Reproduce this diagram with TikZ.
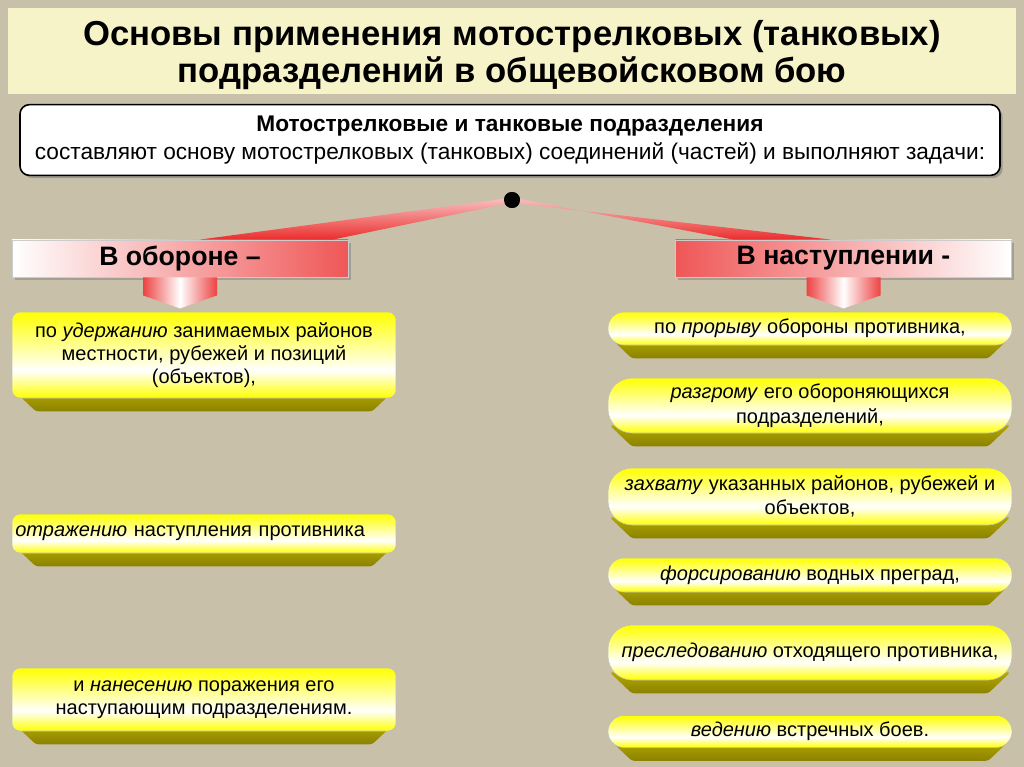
\documentclass[tikz,border=0pt]{standalone}
\usepackage{fontspec}
\setmainfont{Liberation Sans}
\usetikzlibrary{positioning,calc,shadows}

\definecolor{canvasbg}{RGB}{201,192,170}
\definecolor{titlebg}{RGB}{247,243,200}
\definecolor{hred}{RGB}{235,45,45}
\definecolor{yface}{RGB}{255,255,0}
\definecolor{bevtop}{RGB}{178,168,0}
\definecolor{bevbot}{RGB}{140,130,0}

\pgfdeclareverticalshading{yfill}{100bp}{color(0bp)=(yface); color(25bp)=(yface); color(41bp)=(white); color(75bp)=(yface); color(100bp)=(yface)}
\pgfdeclarelayer{canvas}
\pgfdeclarelayer{bevel}
\pgfsetlayers{canvas,bevel,main}

\tikzstyle{topbox} = [draw=black, line width=1.2pt, fill=white, rounded corners=7pt, minimum width=735pt, minimum height=53pt, align=center, font=\fontsize{17}{21}\selectfont, drop shadow={shadow xshift=2pt, shadow yshift=-2pt, opacity=.6}]
\tikzstyle{hdr} = [draw=black!20, minimum width=252pt, minimum height=28pt, font=\fontsize{20}{24}\selectfont\bfseries, drop shadow={shadow xshift=2pt, shadow yshift=-2pt, opacity=.5}]
\tikzstyle{rbox} = [shading=yfill, draw=black!25, rounded corners=6pt, minimum width=288pt, inner sep=2pt, align=center, font=\fontsize{15}{17.5}\selectfont]
\tikzstyle{pill} = [shading=yfill, draw=black!25, rounded corners=12pt, minimum width=303pt, inner sep=2pt, align=center, font=\fontsize{15}{18.5}\selectfont]
\tikzstyle{wedge} = [top color=hred!30!white, bottom color=hred]
\tikzstyle{downarrow} = [left color=hred!90!white, right color=hred!90!white, middle color=white]

% olive underside of a yellow box
\newcommand{\bevel}[1]{%
  \begin{pgfonlayer}{bevel}
    \shade[top color=bevtop, bottom color=bevbot, rounded corners=2pt]
      ($(#1.south west)+(2,-8)$) -- ($(#1.south east)+(-2,-8)$) --
      ($(#1.south east)+(-24,13)$) -- ($(#1.south west)+(24,13)$) -- cycle;
  \end{pgfonlayer}}

\begin{document}
\begin{tikzpicture}[x=0.75pt, y=-0.75pt]
\useasboundingbox (0,0) rectangle (1024,767);
\begin{pgfonlayer}{canvas}
  \fill[canvasbg] (0,0) rectangle (1024,767);
\end{pgfonlayer}

% Define nodes
\node[fill=titlebg, minimum width=756pt, minimum height=65pt] (band) at (512,51) {};
\node[align=center, font=\fontsize{26}{27.5}\selectfont\bfseries] (title) at (512,55)
  {Основы применения мотострелковых (танковых)\\подразделений в общевойсковом бою};

\node[topbox] (units) at (510,140)
  {\textbf{Мотострелковые и танковые подразделения}\\составляют основу мотострелковых (танковых) соединений (частей) и выполняют задачи:};

\node[hdr, left color=white, middle color=hred!10!white, right color=hred!80!white] (hdef) at (180,258.5) {В обороне –};
\node[hdr, left color=hred!80!white, middle color=hred!10!white, right color=white] (hatt) at (843.5,258.5) {В наступлении -};

\node[circle, fill=black, minimum size=12pt, inner sep=0pt] (dot) at (512,200) {};

% defence
\node[rbox, minimum height=64.5pt] (hold) at (204,355)
  {по \textit{удержанию} занимаемых районов\\местности, рубежей и позиций\\(объектов),};
\node[rbox, minimum height=29.25pt, text width=283pt, align=left] (repel) at (204,533.5)
  {\textit{отражению} наступления противника};
\node[rbox, minimum height=47.25pt] (strike) at (204,699.5)
  {и \textit{нанесению} поражения его\\наступающим подразделениям.};

% offence
\node[pill, minimum height=24.75pt] (breach) at (810,328.5) {по \textit{прорыву} обороны противника,};
\node[pill, minimum height=41.25pt, rounded corners=18pt] (rout) at (810,405.5)
  {\textit{разгрому} его обороняющихся\\подразделений,};
\node[pill, minimum height=42.75pt, rounded corners=18pt] (seize) at (810,496.5)
  {\textit{захвату} указанных районов, рубежей и\\объектов,};
\node[pill, minimum height=25.5pt] (cross) at (810,575) {\textit{форсированию} водных преград,};
\node[pill, minimum height=41.25pt, rounded corners=18pt] (pursue) at (810,652.5)
  {\textit{преследованию} отходящего противника,};
\node[pill, minimum height=24pt] (meet) at (810,731.5) {\textit{ведению} встречных боев.};

\foreach \b in {hold,repel,strike,breach,rout,seize,cross,pursue,meet}
  \bevel{\b};

% Edges
\shade[wedge] ($(dot)+(-2,-2)$) -- ($(hdef.north)+(20,0)$) -- ($(hdef.north)+(153,0)$) -- ($(dot)+(-2,3)$) -- cycle;
\shade[wedge] ($(dot)+(2,-2)$) -- ($(hatt.north)+(-110,0)$) -- ($(hatt.north)+(-13,0)$) -- ($(dot)+(2,3)$) -- cycle;
\node[circle, fill=black, minimum size=12pt, inner sep=0pt] at (dot) {};

\shade[downarrow] ($(hdef.south)+(-37,0)$) -- ($(hdef.south)+(37,0)$) -- ++(0,18) -- ($(hdef.south)+(0,31)$) -- ($(hdef.south)+(-37,18)$) -- cycle;
\shade[downarrow] ($(hatt.south)+(-37,0)$) -- ($(hatt.south)+(37,0)$) -- ++(0,18) -- ($(hatt.south)+(0,31)$) -- ($(hatt.south)+(-37,18)$) -- cycle;
\end{tikzpicture}
\end{document}
